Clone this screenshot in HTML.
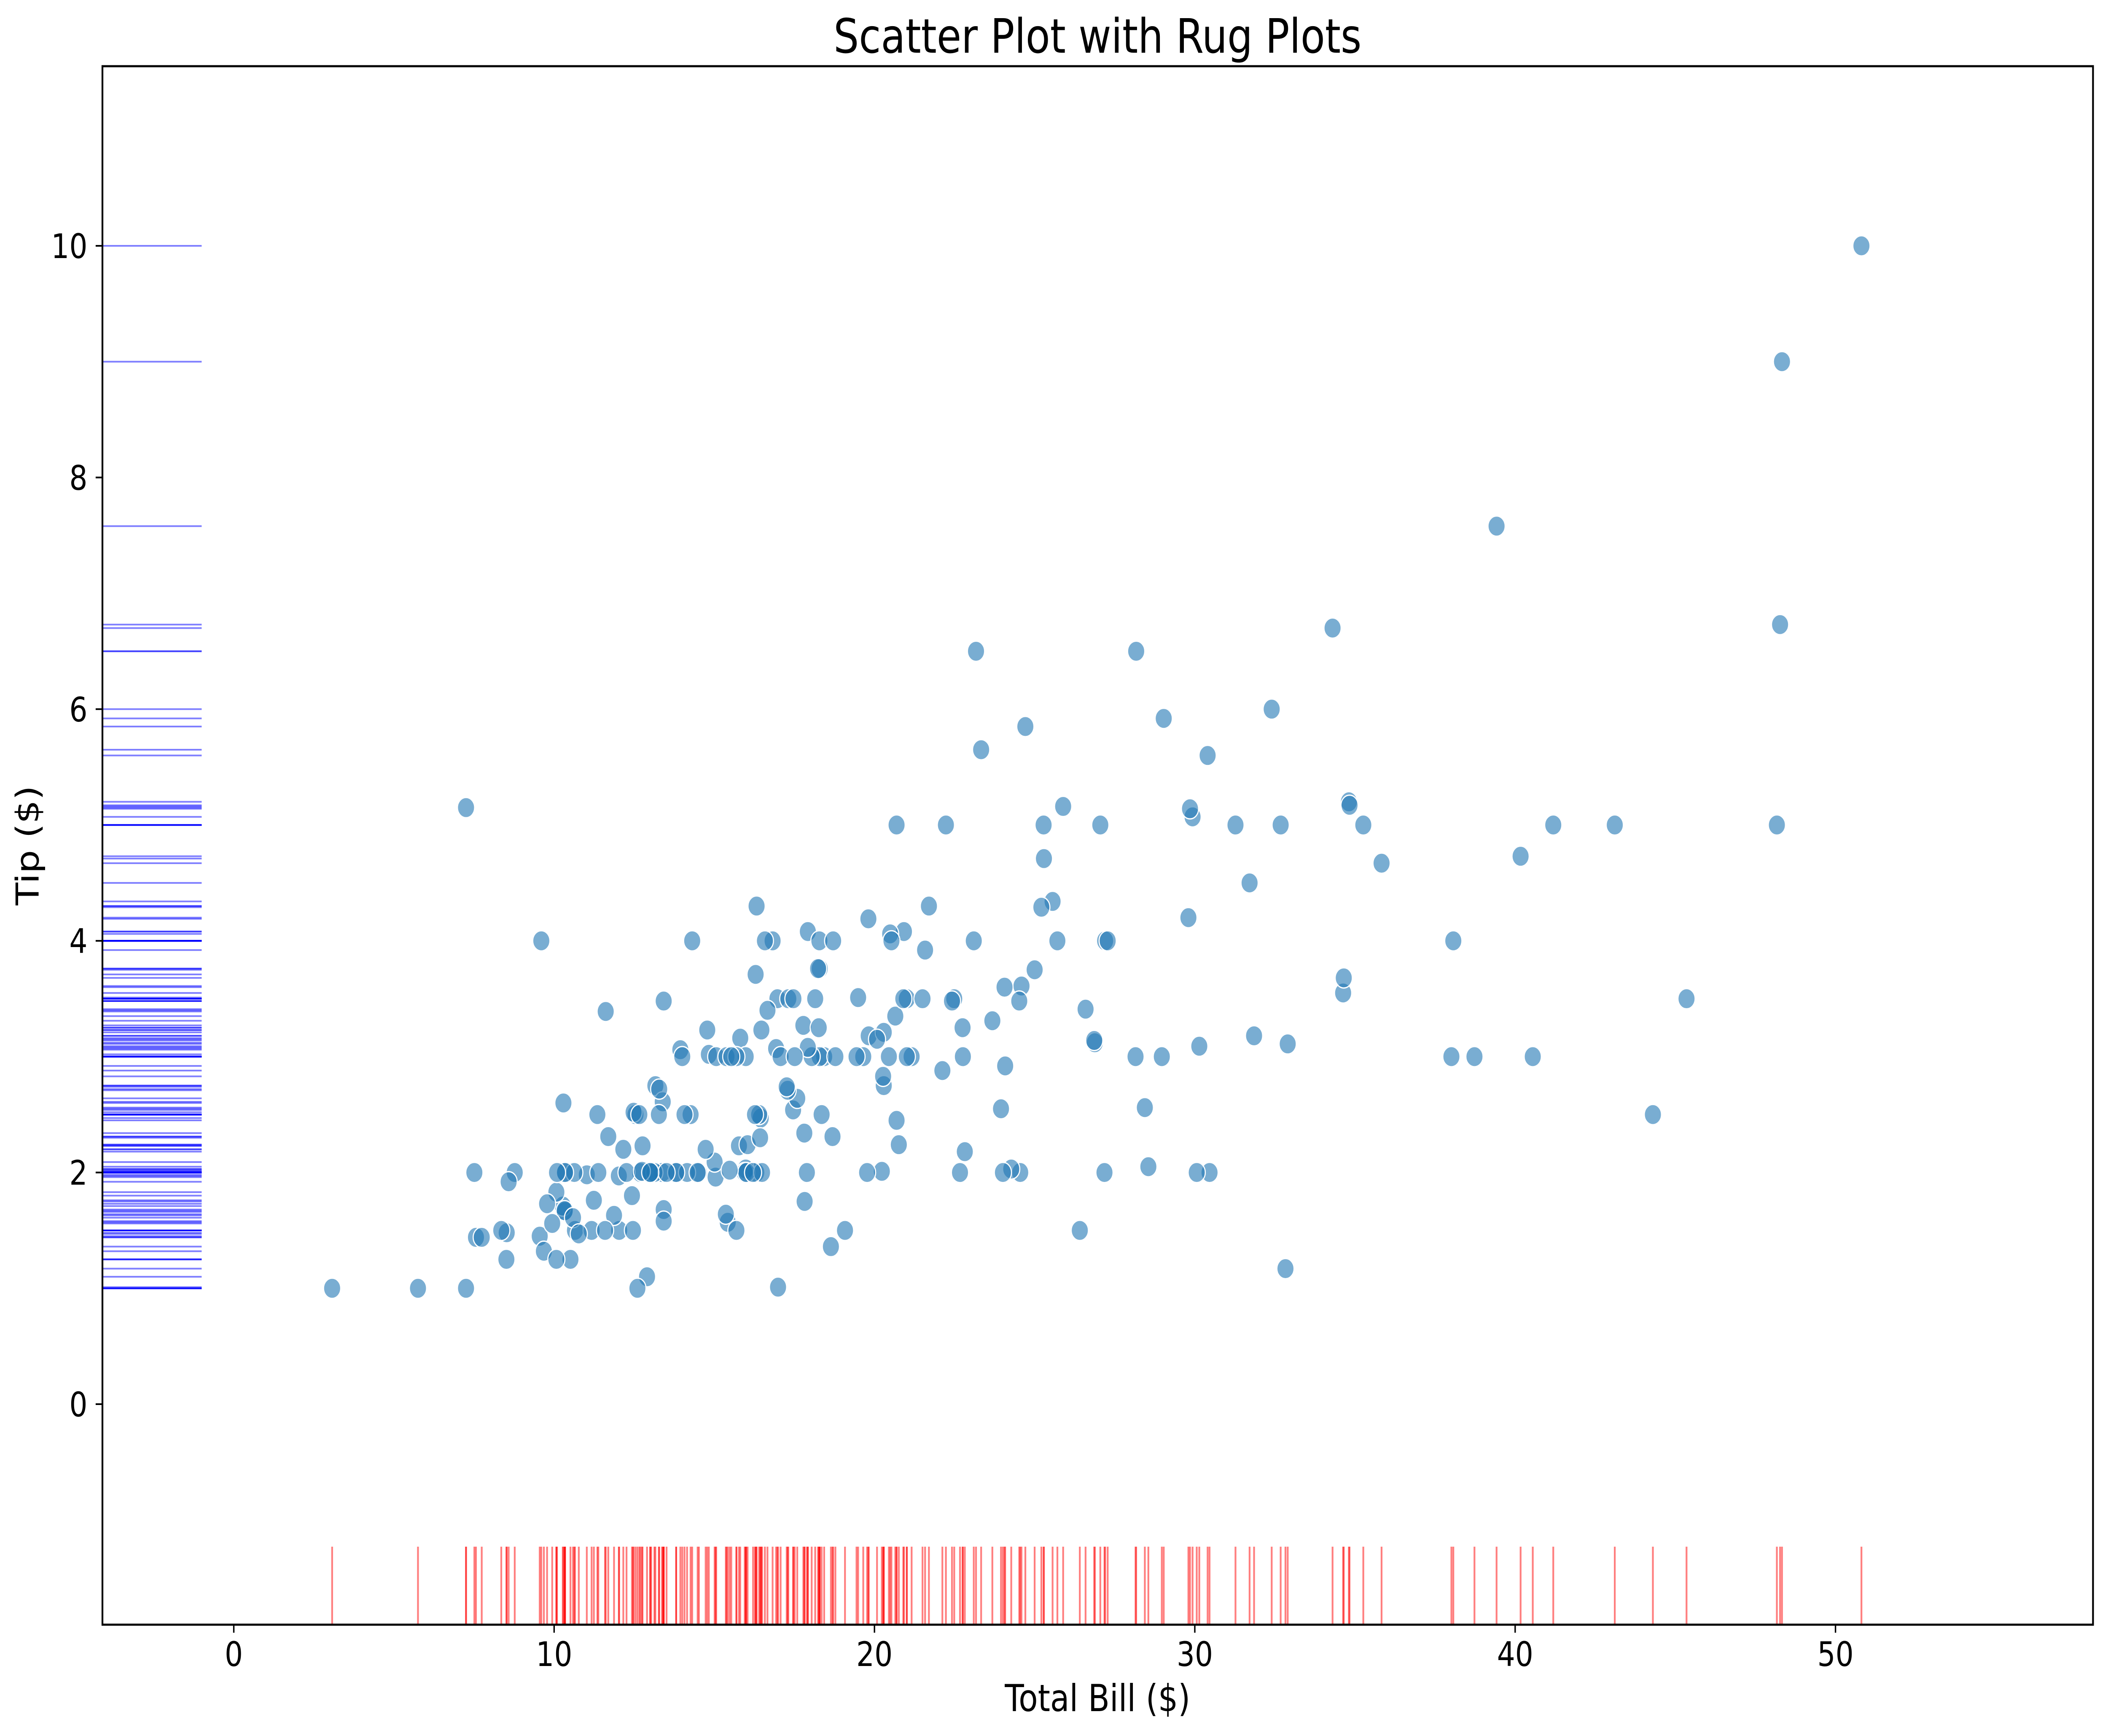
<!DOCTYPE html>
<html><head><meta charset="utf-8"><style>html,body{margin:0;padding:0;background:#fff;overflow:hidden;width:100%;height:100%}svg{display:block;width:100vw;height:100vh}</style></head>
<body>
<svg id="s" xmlns="http://www.w3.org/2000/svg" viewBox="0 0 5906 4117" preserveAspectRatio="none" font-family="DejaVu Sans, Liberation Sans, sans-serif">
<rect width="5906" height="4117" fill="#fff"/>
<g id="rx"></g><g id="ry"></g><g id="pts"></g>
<rect x="287" y="157" width="5577" height="3696" fill="none" stroke="#000" stroke-width="5"/>
<g id="ticks" stroke="#000" stroke-width="4"></g>
<g id="labs" font-size="80" fill="#000"></g>
<text x="3075" y="125" font-size="112" text-anchor="middle">Scatter Plot with Rug Plots</text>
<text x="3075" y="4058" font-size="88" text-anchor="middle">Total Bill ($)</text>
<text transform="translate(108,2005) rotate(-90)" font-size="88" text-anchor="middle">Tip ($)</text>
</svg>
<script>
var d=[16.99,1.01,10.34,1.66,21.01,3.5,23.68,3.31,24.59,3.61,25.29,4.71,8.77,2.0,26.88,3.12,15.04,1.96,14.78,3.23,10.27,1.71,35.26,5.0,15.42,1.57,18.43,3.0,14.83,3.02,21.58,3.92,10.33,1.67,16.29,3.71,16.97,3.5,20.65,3.35,17.92,4.08,20.29,2.75,15.77,2.23,39.42,7.58,19.82,3.18,17.81,2.34,13.37,2.0,12.69,2.0,21.7,4.3,19.65,3.0,9.55,1.45,18.35,2.5,15.06,3.0,20.69,2.45,17.78,3.27,24.06,3.6,16.31,2.0,16.93,3.07,18.69,2.31,31.27,5.0,16.04,2.24,17.46,2.54,13.94,3.06,9.68,1.32,30.4,5.6,18.29,3.0,22.23,5.0,32.4,6.0,28.55,2.05,18.04,3.0,12.54,2.5,10.29,2.6,34.81,5.2,9.94,1.56,25.56,4.34,19.49,3.51,38.01,3.0,26.41,1.5,11.24,1.76,48.27,6.73,20.29,3.21,13.81,2.0,11.02,1.98,18.29,3.76,17.59,2.64,20.08,3.15,16.45,2.47,3.07,1.0,20.23,2.01,15.01,2.09,12.02,1.97,17.07,3.0,26.86,3.14,25.28,5.0,14.73,2.2,10.51,1.25,17.92,3.08,27.2,4.0,22.76,3.0,17.29,2.71,19.44,3.0,16.66,3.4,10.07,1.83,32.68,5.0,15.98,2.03,34.83,5.17,13.03,2.0,18.28,4.0,24.71,5.85,21.16,3.0,28.97,3.0,22.49,3.5,5.75,1.0,16.32,4.3,22.75,3.25,40.17,4.73,27.28,4.0,12.03,1.5,21.01,3.0,12.46,1.5,11.35,2.5,15.38,3.0,44.3,2.5,22.42,3.48,20.92,4.08,15.36,1.64,20.49,4.06,25.21,4.29,18.24,3.76,14.31,4.0,14.0,3.0,7.25,1.0,38.07,4.0,23.95,2.55,25.71,4.0,17.31,3.5,29.93,5.07,10.65,1.5,12.43,1.8,24.08,2.92,11.69,2.31,13.42,1.68,14.26,2.5,15.95,2.0,12.48,2.52,29.8,4.2,8.52,1.48,14.52,2.0,11.38,2.0,22.82,2.18,19.08,1.5,20.27,2.83,11.17,1.5,12.26,2.0,18.26,3.25,8.51,1.25,10.33,2.0,14.15,2.0,16.0,2.0,13.16,2.75,17.47,3.5,34.3,6.7,41.19,5.0,27.05,5.0,16.43,2.3,8.35,1.5,18.64,1.36,11.87,1.63,9.78,1.73,7.51,2.0,14.07,2.5,13.13,2.0,17.26,2.74,24.55,2.0,19.77,2.0,29.85,5.14,48.17,5.0,25.0,3.75,13.39,2.61,16.49,2.0,21.5,3.5,12.66,2.5,16.21,2.0,13.81,2.0,17.51,3.0,24.52,3.48,20.76,2.24,31.71,4.5,10.59,1.61,10.63,2.0,50.81,10.0,15.81,3.16,7.25,5.15,31.85,3.18,16.82,4.0,32.9,3.11,17.89,2.0,14.48,2.0,9.6,4.0,34.63,3.55,34.65,3.68,23.33,5.65,45.35,3.5,23.17,6.5,40.55,3.0,20.69,5.0,20.9,3.5,30.46,2.0,18.15,3.5,23.1,4.0,15.69,1.5,19.81,4.19,28.44,2.56,15.48,2.02,16.58,4.0,7.56,1.44,10.34,2.0,43.11,5.0,13.0,2.0,13.51,2.0,18.71,4.0,12.74,2.01,13.0,2.0,16.4,2.5,20.53,4.0,16.47,3.23,26.59,3.41,38.73,3.0,24.27,2.03,12.76,2.23,30.06,2.0,25.89,5.16,48.33,9.0,13.27,2.5,28.17,6.5,12.9,1.1,28.15,3.0,11.59,1.5,7.74,1.44,30.14,3.09,12.16,2.2,13.42,3.48,8.58,1.92,15.98,3.0,13.42,1.58,16.27,2.5,10.09,2.0,20.45,3.0,13.28,2.72,22.12,2.88,24.01,2.0,15.69,3.0,11.61,3.39,10.77,1.47,15.53,3.0,10.07,1.25,12.6,1.0,32.83,1.17,35.83,4.67,29.03,5.92,27.18,2.0,22.67,2.0,17.82,1.75,18.78,3.0];
var NS="http://www.w3.org/2000/svg";
function X(v){return 655+v*89.75;}function Y(v){return 3330-v*274.7;}
function el(p,t,a,txt){var e=document.createElementNS(NS,t);for(var k in a)e.setAttribute(k,a[k]);if(txt!=null)e.textContent=txt;document.getElementById(p).appendChild(e);}
for(var i=0;i<d.length;i+=2){var x=X(d[i]),y=Y(d[i+1]);
el("rx","line",{x1:x,x2:x,y1:3668,y2:3853,stroke:"#ff0000","stroke-opacity":0.5,"stroke-width":5});
el("ry","line",{x1:287,x2:565,y1:y,y2:y,stroke:"#0000ff","stroke-opacity":0.5,"stroke-width":4});
el("pts","circle",{cx:x,cy:y,r:24,fill:"#1f77b4","fill-opacity":0.6,stroke:"#fff","stroke-width":3});}
for(var v=0;v<=50;v+=10){var x=X(v);el("ticks","line",{x1:x,x2:x,y1:3853,y2:3872});el("labs","text",{x:x,y:3951,"text-anchor":"middle"},String(v));}
for(var v=0;v<=10;v+=2){var y=Y(v);el("ticks","line",{x1:268,x2:287,y1:y,y2:y});el("labs","text",{x:245,y:y+29,"text-anchor":"end"},String(v));}
</script>
</body></html>
